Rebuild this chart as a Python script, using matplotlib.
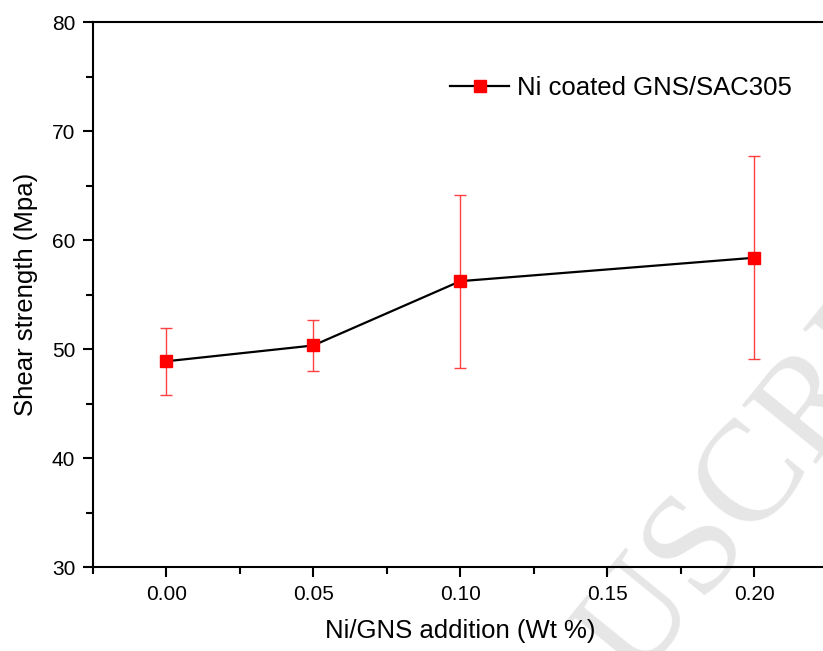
import numpy as np
import matplotlib
matplotlib.use("Agg")
import matplotlib.pyplot as plt
from matplotlib.ticker import MultipleLocator

# shear strength vs Ni/GNS addition
ni_gns = [0.00, 0.05, 0.10, 0.20]
shear = [48.9, 50.35, 56.25, 58.4]
shear_err = [3.05, 2.3, 7.95, 9.3]

x_label = "Ni/GNS addition (Wt %)"
y_label = "Shear strength (Mpa)"
series_name = "Ni coated GNS/SAC305"

plt.rcParams["font.family"] = ["Liberation Sans", "DejaVu Sans"]

fig = plt.figure(figsize=(8.23, 6.51), dpi=100)
# right spine sits just past the image edge, as in the reference
ax = fig.add_axes([92.7 / 823, 1 - 567.3 / 651, 735.1 / 823, 545.0 / 651])
ax.patch.set_visible(False)

ax.errorbar(ni_gns, shear, yerr=shear_err, fmt="none", ecolor="#ff4040",
            elinewidth=1.0, capsize=4.5, capthick=1.0, zorder=2)
ax.plot(ni_gns, shear, color="black", lw=1.6, marker="s", ms=8,
        mfc="red", mec="red", label=series_name, zorder=3)

ax.set_xlim(-0.025, 0.225)
ax.set_ylim(30, 80)
ax.xaxis.set_major_locator(MultipleLocator(0.05))
ax.xaxis.set_minor_locator(MultipleLocator(0.025))
ax.yaxis.set_major_locator(MultipleLocator(10))
ax.yaxis.set_minor_locator(MultipleLocator(5))
ax.set_xticks([0.0, 0.05, 0.10, 0.15, 0.20])
ax.set_xticklabels(["0.00", "0.05", "0.10", "0.15", "0.20"])

for s in ax.spines.values():
    s.set_linewidth(1.5)
ax.tick_params(which="major", direction="out", length=7.5, width=1.5,
               labelsize=15, pad=5)
ax.tick_params(which="minor", direction="out", length=5, width=1.5)

ax.set_xlabel(x_label, fontsize=18.5, labelpad=11)
ax.set_ylabel(y_label, fontsize=18.5, labelpad=10)

ax.legend(loc="center left", bbox_to_anchor=(0.486, 0.879), frameon=False,
          fontsize=18.5, handlelength=2.3, handletextpad=0.3,
          borderpad=0, borderaxespad=0)

# faded watermark left over from the source page
fig.text(0.772, -0.05, "USCRIPT", rotation=51, rotation_mode="anchor",
         ha="left", va="baseline", fontsize=104, family="Liberation Serif",
         color="#e6e6e6", zorder=-1)

fig.savefig("out.png", dpi=100)
